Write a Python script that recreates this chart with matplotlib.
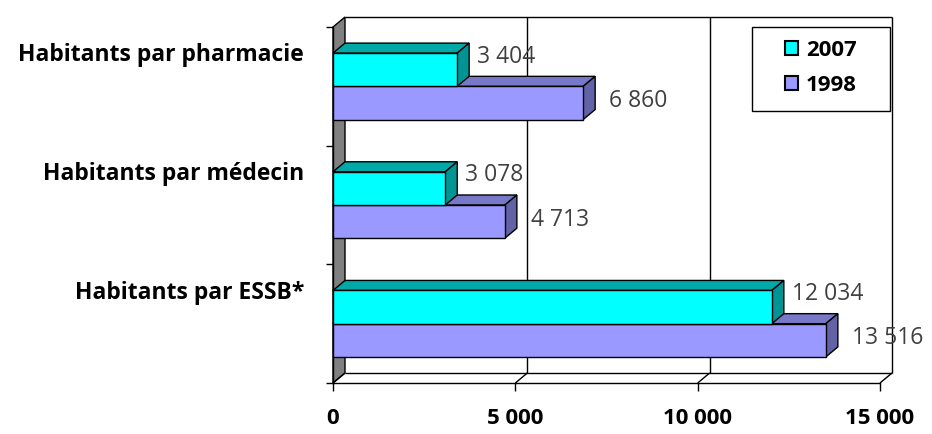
import matplotlib
matplotlib.use("Agg")
import matplotlib.pyplot as plt
from matplotlib.patches import Polygon, Rectangle, Patch
from matplotlib.transforms import offset_copy
from matplotlib.ticker import FuncFormatter

categories = ["Habitants par pharmacie", "Habitants par médecin", "Habitants par ESSB*"]
years = ["2007", "1998"]
values_2007 = [3404, 3078, 12034]
values_1998 = [6860, 4713, 13516]
xticks = [0, 5000, 10000, 15000]

plt.rcParams["font.family"] = ["Open Sans", "DejaVu Sans"]

W, H, DPI = 932, 434, 100
fig = plt.figure(figsize=(W / DPI, H / DPI), dpi=DPI)
ax = fig.add_axes([333 / W, 51 / H, 547 / W, 356 / H])
ax.set_xlim(0, 15000)
ax.set_ylim(3, 0)
ax.patch.set_visible(False)

# depth of the 3D box, pixels -> data units
pos = ax.get_position()
DX = 12 * 15000 / (pos.width * W)
DY = 10 * 3 / (pos.height * H)
XMAX = 15000

line_kw = dict(color="black", lw=1, clip_on=False, zorder=1, solid_capstyle="butt")

# left wall
ax.add_patch(Polygon([(0, 0), (DX, -DY), (DX, 3 - DY), (0, 3)], closed=True,
                     fc="#808080", ec="black", lw=1, clip_on=False, zorder=1))
# back wall grid + floor
for x in xticks[1:]:
    ax.plot([x + DX, x + DX], [3 - DY, -DY], **line_kw)
for x in xticks:
    ax.plot([x, x + DX], [3, 3 - DY], **line_kw)
ax.plot([DX, XMAX + DX], [-DY, -DY], **line_kw)
ax.plot([DX, XMAX + DX], [3 - DY, 3 - DY], **line_kw)

colors = {
    "2007": ("#00FFFF", "#00A8A8", "#009494"),
    "1998": ("#9999FF", "#7878C8", "#6262A6"),
}
bar_h = 0.28


def draw_bar(y0, y1, v, cols):
    front, top, side = cols
    kw = dict(ec="black", lw=1, clip_on=False, zorder=3, joinstyle="miter")
    ax.add_patch(Polygon([(0, y0), (v, y0), (v + DX, y0 - DY), (DX, y0 - DY)], fc=top, **kw))
    ax.add_patch(Polygon([(v, y0), (v, y1), (v + DX, y1 - DY), (v + DX, y0 - DY)], fc=side, **kw))
    ax.add_patch(Rectangle((0, y0), v, y1 - y0, fc=front, **kw))


lbl_2007 = offset_copy(ax.transData, fig=fig, x=20, y=13, units="dots")
lbl_1998 = offset_copy(ax.transData, fig=fig, x=26, y=2, units="dots")
val_kw = dict(fontsize=16.5, color="#404040", va="center", ha="left", zorder=6)
for i in range(len(categories)):
    c = i + 0.5
    draw_bar(c, c + bar_h, values_1998[i], colors["1998"])
    draw_bar(c - bar_h, c, values_2007[i], colors["2007"])
    ax.text(values_2007[i], c - bar_h / 2, f"{values_2007[i]:,}".replace(",", " "),
            transform=lbl_2007, **val_kw)
    ax.text(values_1998[i], c + bar_h / 2, f"{values_1998[i]:,}".replace(",", " "),
            transform=lbl_1998, **val_kw)

# category names
cat_tr = offset_copy(ax.transData, fig=fig, x=-29, y=31, units="dots")
for i, name in enumerate(categories):
    ax.text(0, i + 0.5, name, transform=cat_tr, ha="right", va="center",
            fontsize=16.5, fontweight="bold", color="black")

# axes
for s in ["top", "right"]:
    ax.spines[s].set_visible(False)
for s in ["left", "bottom"]:
    ax.spines[s].set_color("black")
    ax.spines[s].set_linewidth(1)
    ax.spines[s].set_zorder(2)
ax.set_xticks(xticks)
ax.xaxis.set_major_formatter(FuncFormatter(lambda v, p: f"{int(v):,}".replace(",", " ")))
ax.tick_params(axis="x", length=6, width=1, direction="out", pad=12, labelsize=16)
for t in ax.get_xticklabels():
    t.set_fontweight("bold")
ax.set_yticks([0, 1, 2, 3])
ax.set_yticklabels([])
ax.tick_params(axis="y", length=5, width=1, direction="out")

# legend box
fig.add_artist(Rectangle((752 / W, (H - 111) / H), 138 / W, 84 / H, transform=fig.transFigure,
                         fc="white", ec="black", lw=1, zorder=4))
handles = [Patch(fc=colors[y][0], ec="black", lw=1.5) for y in years]
fig.legend(handles, years, loc="center", bbox_to_anchor=(821 / W, (H - 68) / H),
           bbox_transform=fig.transFigure, frameon=False,
           prop=dict(weight="bold", size=16), handlelength=0.6, handleheight=0.6,
           handletextpad=0.35, labelspacing=0.65)

fig.savefig("out.png", dpi=DPI)
